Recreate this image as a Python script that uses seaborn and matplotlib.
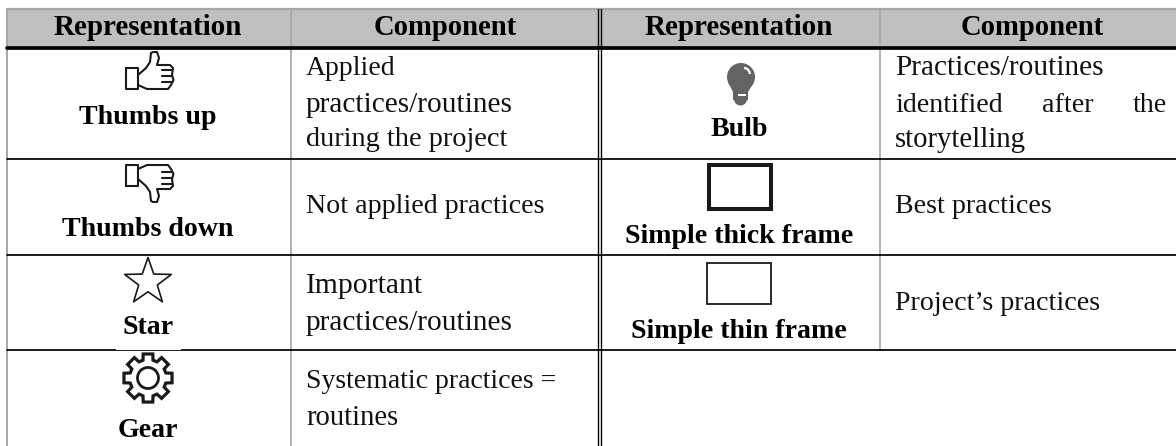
import numpy as np
import matplotlib
matplotlib.use("Agg")
import matplotlib.pyplot as plt
from matplotlib.patches import Rectangle, Polygon, Circle, Arc
import seaborn as sns

sns.set_theme(style="white")
plt.rcParams['font.family'] = ['Liberation Serif', 'DejaVu Serif']

header = ["Representation", "Component", "Representation", "Component"]
left_names = ["Thumbs up", "Thumbs down", "Star", "Gear"]
left_desc = [["Applied", "practices/routines", "during the project"],
             ["Not applied practices"],
             ["Important", "practices/routines"],
             ["Systematic practices =", "routines"]]
right_names = ["Bulb", "Simple thick frame", "Simple thin frame"]
right_desc = [["Practices/routines", "identified", "after", "the", "storytelling"],
              ["Best practices"],
              ["Project\u2019s practices"]]

W, H = 1176, 446
fig = plt.figure(figsize=(W/100, H/100), dpi=100)
ax = fig.add_axes([0, 0, 1, 1])
ax.set_xlim(0, W); ax.set_ylim(H, 0); ax.axis("off")

GREY = "#a6a6a6"
ax.add_patch(Rectangle((7, 9), W-7, 37, fc="#bfbfbf", ec="none"))
ax.plot([7, W], [9, 9], color=GREY, lw=1.6)
ax.plot([7, 7], [9, H], color=GREY, lw=1.4)
ax.plot([291, 291], [9, H], color=GREY, lw=1.2)
ax.plot([880, 880], [9, 350], color=GREY, lw=1.2)
ax.plot([7, W], [48, 48], color="black", lw=2.7)
for y in [158.5, 254.5, 349.8]:
    ax.plot([7, W], [y, y], color="black", lw=1.25)
for x in [597.5, 600.8]:
    ax.plot([x, x], [9, H], color="black", lw=1.0)

# white icon boxes clipping the rules
for x0, x1, y in [(120, 177, 158.5), (120, 177, 254.5), (116, 181, 349.8), (704, 775, 158.5), (702, 777, 254.5)]:
    ax.add_patch(Rectangle((x0, y-1.0), x1-x0, 0.8, fc="white", ec="none", zorder=3))

for x, t, fs in zip([148, 445, 739, 1032], header, [21, 20.6, 21, 20.6]):
    ax.text(x, 35, t, ha="center", va="baseline", fontsize=fs, fontweight="bold", color="black")

lc = 148; rc = 739
NFS = 20.1
for by, t in zip([124, 236, 334, 437], left_names):
    ax.text(lc, by, t, ha="center", va="baseline", fontsize=NFS, fontweight="bold", color="black")
for by, t in zip([136, 243, 338], right_names):
    ax.text(rc, by, t, ha="center", va="baseline", fontsize=NFS, fontweight="bold", color="black")

def desc(xs, ys, lines, sizes):
    for x, y, t, fs in zip(xs, ys, lines, sizes):
        ax.text(x, y, t, ha="left", va="baseline", fontsize=fs, color="#111111")
desc([306]*3, [75, 112, 146], left_desc[0], [20, 21.2, 20.3])
desc([306], [213], left_desc[1], [20.2])
desc([306]*2, [293, 330], left_desc[2], [21.3, 21.2])
desc([306]*2, [388, 425], left_desc[3], [20, 20.6])
desc([895, 895, 1042, 1133, 895], [75, 112, 112, 112, 147], right_desc[0], [21.2, 20.2, 20.2, 20.2, 20.7])
desc([895], [213], right_desc[1], [20.2])
desc([895], [310], right_desc[2], [20.2])

# icons
lw = 1.5
def thumb(flip):
    fy = (lambda ys: [254 - y for y in ys]) if flip else (lambda ys: list(ys))
    ax.plot([126, 126, 138, 138, 126], fy([68, 89, 89, 68, 68]), color="k", lw=lw)
    hx = [138, 146, 150, 151, 153, 157, 159, 157, 170, 173, 172, 173.5, 171, 168, 147, 138]
    hy = [75, 68, 62, 53, 52, 52, 58, 65, 65, 68, 75, 80, 85, 89, 89, 85]
    ax.plot(hx, fy(hy), color="k", lw=lw, solid_joinstyle="round")
    for a in [70, 76, 82]:
        ax.plot([162, 172], fy([a, a]), color="k", lw=lw)
thumb(False)
thumb(True)

# star
R, r, cx, cy = 24.5, 9.8, 148, 282
star = [(cx + (R if i % 2 == 0 else r)*np.sin(i*np.pi/5), cy - (R if i % 2 == 0 else r)*np.cos(i*np.pi/5)) for i in range(10)]
ax.add_patch(Polygon(star, closed=True, fc="white", ec="k", lw=1.2, joinstyle="round"))

# gear
pts = []
n = 8
d = np.pi/n
for i in range(n):
    a = 2*np.pi*i/n - np.pi/2
    for rad, da in [(18.5, -0.70*d), (24.5, -0.50*d), (24.5, 0.50*d), (18.5, 0.70*d)]:
        pts.append((148 + rad*np.cos(a+da), 378 + rad*np.sin(a+da)))
ax.add_patch(Polygon(pts, closed=True, fc="white", ec="k", lw=2.3, joinstyle="miter"))
ax.add_patch(Circle((148, 378), 10.5, fc="white", ec="k", lw=2.0))

# bulb
bc = "#636363"
ax.add_patch(Circle((741, 77), 14, fc=bc, ec="none"))
ax.add_patch(Polygon([(728, 82), (754, 82), (748, 92), (748, 100), (733, 100), (733, 92)], fc=bc, ec="none"))
ax.add_patch(Circle((740.5, 99), 6.5, fc=bc, ec="none"))
ax.add_patch(Rectangle((738, 94), 8, 2.2, fc="white", ec="none"))
ax.add_patch(Arc((744, 75), 12, 14, theta1=-90, theta2=-10, color="white", lw=1.6))

# frames
ax.add_patch(Rectangle((709, 165), 62, 44, fc="white", ec="k", lw=2.9, joinstyle="miter"))
ax.add_patch(Rectangle((707, 262.5), 63.5, 41, fc="white", ec="k", lw=1.3, joinstyle="miter"))

fig.savefig("out.png", dpi=100)
